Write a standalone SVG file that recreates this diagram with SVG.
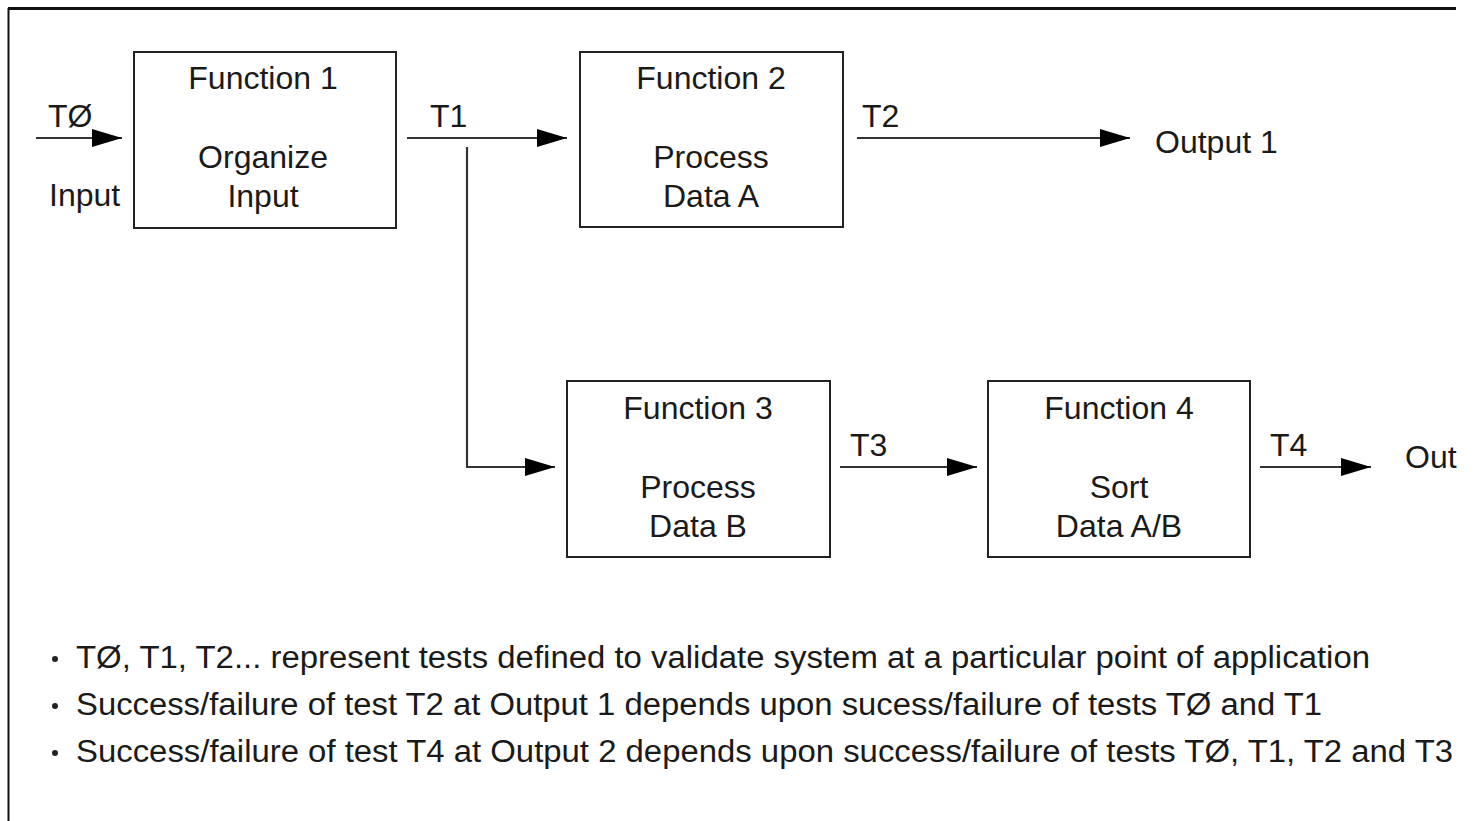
<svg xmlns="http://www.w3.org/2000/svg" width="1475" height="821" viewBox="0 0 1475 821">
  <style>
    .frame { stroke: #111; fill: none; }
    .box { fill: #fff; stroke: #222; stroke-width: 2; }
    .wire { stroke: #333; stroke-width: 2.2; fill: none; }
    text { font-family: "Liberation Sans", Arial, Helvetica, sans-serif; font-size: 32px; fill: #1a1a1a; }
    .c { text-anchor: middle; }
    .note { font-size: 31px; }
    .dot { fill: #222; }
  </style>
  <defs>
    <marker id="arrow" viewBox="0 0 30 18" refX="30" refY="9" markerWidth="30" markerHeight="18" markerUnits="userSpaceOnUse" orient="auto">
      <path d="M0,0 L30,9 L0,18 Z" fill="#000"/>
    </marker>
  </defs>
  <rect width="1475" height="821" fill="#fff"/>

  <!-- page frame (open on the right and bottom) -->
  <line class="frame" x1="8" y1="8.5" x2="1456" y2="8.5" stroke-width="3"/>
  <line class="frame" x1="8.5" y1="8" x2="8.5" y2="821" stroke-width="2"/>

  <!-- connectors -->
  <g id="connectors">
    <line class="wire" x1="36" y1="138" x2="122" y2="138" marker-end="url(#arrow)"/>
    <line class="wire" x1="407" y1="138" x2="567" y2="138" marker-end="url(#arrow)"/>
    <polyline class="wire" points="467,147 467,467 555,467" marker-end="url(#arrow)"/>
    <line class="wire" x1="857" y1="138" x2="1130" y2="138" marker-end="url(#arrow)"/>
    <line class="wire" x1="840" y1="467" x2="977" y2="467" marker-end="url(#arrow)"/>
    <line class="wire" x1="1260" y1="467" x2="1371" y2="467" marker-end="url(#arrow)"/>
  </g>

  <!-- connector labels -->
  <g id="labels">
    <text x="48" y="127">TØ</text>
    <text x="49" y="206">Input</text>
    <text x="430" y="127">T1</text>
    <text x="862" y="127">T2</text>
    <text x="1155" y="153">Output 1</text>
    <text x="850" y="456">T3</text>
    <text x="1270" y="456">T4</text>
    <text x="1405" y="468">Out</text>
  </g>

  <g id="f1">
    <rect class="box" x="134" y="52" width="262" height="176"/>
    <text class="c" x="263" y="89">Function 1</text>
    <text class="c" x="263" y="168">Organize</text>
    <text class="c" x="263" y="207">Input</text>
  </g>
  <g id="f2">
    <rect class="box" x="580" y="52" width="263" height="175"/>
    <text class="c" x="711" y="89">Function 2</text>
    <text class="c" x="711" y="168">Process</text>
    <text class="c" x="711" y="207">Data A</text>
  </g>
  <g id="f3">
    <rect class="box" x="567" y="381" width="263" height="176"/>
    <text class="c" x="698" y="419">Function 3</text>
    <text class="c" x="698" y="498">Process</text>
    <text class="c" x="698" y="537">Data B</text>
  </g>
  <g id="f4">
    <rect class="box" x="988" y="381" width="262" height="176"/>
    <text class="c" x="1119" y="419">Function 4</text>
    <text class="c" x="1119" y="498">Sort</text>
    <text class="c" x="1119" y="537">Data A/B</text>
  </g>

  <!-- notes -->
  <g id="notes">
    <circle class="dot" cx="55" cy="659" r="3"/>
    <text class="note" x="76" y="668" textLength="1294" lengthAdjust="spacingAndGlyphs">TØ, T1, T2... represent tests defined to validate system at a particular point of application</text>
    <circle class="dot" cx="55" cy="706" r="3"/>
    <text class="note" x="76" y="715" textLength="1246" lengthAdjust="spacingAndGlyphs">Success/failure of test T2 at Output 1 depends upon sucess/failure of tests TØ and T1</text>
    <circle class="dot" cx="55" cy="753" r="3"/>
    <text class="note" x="76" y="762" textLength="1377" lengthAdjust="spacingAndGlyphs">Success/failure of test T4 at Output 2 depends upon success/failure of tests TØ, T1, T2 and T3</text>
  </g>
</svg>
